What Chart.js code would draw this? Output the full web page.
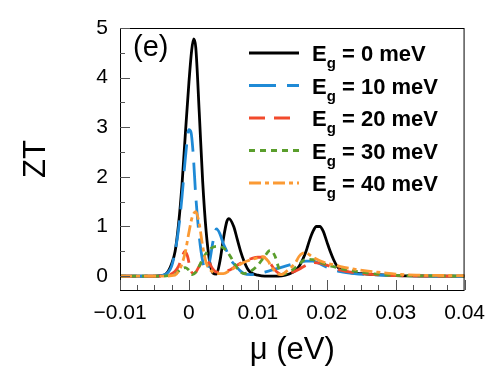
<!DOCTYPE html>
<html>
<head>
<meta charset="utf-8">
<script src="https://cdn.jsdelivr.net/npm/chart.js@4"></script>
<style>
  html, body { margin: 0; padding: 0; background: #fff; }
  #zt { display: block; }
</style>
</head>
<body>
<canvas id="zt" width="496" height="370"></canvas>
<script>
// series labels
const seriesLabels = ['0 meV', '10 meV', '20 meV', '30 meV', '40 meV'];
const seriesColors = ['#000000', '#1f8ad6', '#f24a2c', '#5a9e2c', '#fb9a34'];
const seriesDash = [[], [27, 11], [16, 9], [6, 5], [12, 4, 4, 4]];

// Eg = 0 meV
const mu0 = [-0.01, -0.005, -0.004, -0.0035, -0.003, -0.0025, -0.002, -0.0015, -0.001, -0.0005, 0, 0.0004, 0.0007, 0.001, 0.0015, 0.002, 0.0025, 0.003, 0.0035, 0.004, 0.0045, 0.005, 0.0055, 0.0058, 0.0065, 0.007, 0.0075, 0.008, 0.0085, 0.009, 0.01, 0.011, 0.012, 0.013, 0.014, 0.015, 0.0155, 0.016, 0.0165, 0.017, 0.0175, 0.018, 0.0185, 0.019, 0.0195, 0.02, 0.0205, 0.021, 0.0215, 0.022, 0.023, 0.025, 0.027, 0.03, 0.04];
const zt0 = [0, 0, 0.01, 0.03, 0.1, 0.25, 0.5, 1.05, 1.85, 2.9, 3.9, 4.55, 4.78, 4.6, 3.3, 1.9, 0.9, 0.3, 0.06, 0.04, 0.3, 0.75, 1.1, 1.16, 1.0, 0.75, 0.5, 0.3, 0.15, 0.07, 0.02, 0, 0, 0, 0.02, 0.07, 0.12, 0.2, 0.33, 0.5, 0.72, 0.9, 1.0, 1.0, 0.9, 0.7, 0.5, 0.33, 0.2, 0.13, 0.08, 0.05, 0.03, 0.01, 0];

// Eg = 10 meV
const mu10 = [-0.01, -0.005, -0.004, -0.0035, -0.003, -0.0025, -0.002, -0.0015, -0.001, -0.0005, 0, 0.0003, 0.0006, 0.001, 0.0015, 0.002, 0.0025, 0.003, 0.0035, 0.004, 0.0045, 0.005, 0.0055, 0.006, 0.0065, 0.007, 0.0075, 0.008, 0.009, 0.01, 0.011, 0.012, 0.013, 0.014, 0.015, 0.016, 0.017, 0.018, 0.019, 0.02, 0.021, 0.022, 0.024, 0.026, 0.03, 0.04];
const zt10 = [0, 0, 0.01, 0.03, 0.08, 0.2, 0.5, 0.95, 1.6, 2.4, 2.95, 2.9, 2.5, 1.6, 0.8, 0.3, 0.1, 0.3, 0.7, 0.95, 0.85, 0.65, 0.5, 0.34, 0.25, 0.17, 0.1, 0.05, 0.03, 0.05, 0.08, 0.12, 0.16, 0.2, 0.24, 0.28, 0.3, 0.3, 0.25, 0.18, 0.13, 0.09, 0.05, 0.03, 0.01, 0];

// Eg = 20 meV
const mu20 = [-0.01, -0.004, -0.003, -0.0025, -0.002, -0.0015, -0.001, -0.0006, -0.0002, 0.0002, 0.0006, 0.001, 0.0015, 0.002, 0.0025, 0.003, 0.0035, 0.004, 0.005, 0.006, 0.007, 0.008, 0.009, 0.01, 0.011, 0.0115, 0.012, 0.0125, 0.013, 0.0135, 0.014, 0.015, 0.016, 0.017, 0.018, 0.019, 0.02, 0.021, 0.022, 0.024, 0.026, 0.03, 0.04];
const zt20 = [0, 0, 0.02, 0.05, 0.1, 0.2, 0.38, 0.5, 0.4, 0.15, 0.05, 0.08, 0.2, 0.3, 0.32, 0.25, 0.14, 0.08, 0.08, 0.13, 0.22, 0.3, 0.35, 0.38, 0.38, 0.32, 0.22, 0.12, 0.06, 0.03, 0.04, 0.08, 0.14, 0.22, 0.27, 0.26, 0.22, 0.17, 0.12, 0.07, 0.04, 0.01, 0];

// Eg = 30 meV
const mu30 = [-0.01, -0.004, -0.003, -0.002, -0.0015, -0.001, -0.0005, 0, 0.0005, 0.001, 0.0015, 0.002, 0.0025, 0.003, 0.004, 0.005, 0.0055, 0.006, 0.0065, 0.007, 0.0075, 0.008, 0.009, 0.01, 0.011, 0.0118, 0.0125, 0.013, 0.0135, 0.014, 0.015, 0.016, 0.017, 0.018, 0.019, 0.02, 0.021, 0.022, 0.024, 0.026, 0.028, 0.03, 0.04];
const zt30 = [0, 0, 0.01, 0.04, 0.1, 0.15, 0.17, 0.12, 0.03, 0.08, 0.2, 0.35, 0.46, 0.54, 0.6, 0.57, 0.5, 0.4, 0.28, 0.16, 0.08, 0.05, 0.1, 0.22, 0.4, 0.52, 0.4, 0.18, 0.04, 0.05, 0.12, 0.24, 0.34, 0.33, 0.28, 0.23, 0.19, 0.15, 0.1, 0.06, 0.03, 0.015, 0];

// Eg = 40 meV
const mu40 = [-0.01, -0.004, -0.002, -0.0015, -0.001, -0.0005, 0, 0.0005, 0.001, 0.0015, 0.002, 0.0025, 0.003, 0.0035, 0.004, 0.005, 0.006, 0.007, 0.008, 0.009, 0.01, 0.0107, 0.0115, 0.012, 0.0125, 0.013, 0.0135, 0.014, 0.015, 0.0155, 0.016, 0.0165, 0.017, 0.0175, 0.018, 0.019, 0.02, 0.021, 0.022, 0.024, 0.026, 0.028, 0.03, 0.033, 0.04];
const zt40 = [0, 0, 0.02, 0.1, 0.25, 0.5, 0.88, 1.2, 1.3, 1.05, 0.6, 0.27, 0.14, 0.08, 0.05, 0.05, 0.12, 0.2, 0.28, 0.33, 0.37, 0.39, 0.3, 0.18, 0.1, 0.04, 0.03, 0.08, 0.2, 0.28, 0.4, 0.46, 0.47, 0.43, 0.38, 0.31, 0.26, 0.23, 0.19, 0.14, 0.1, 0.07, 0.04, 0.02, 0.01];

const xTicks = [-0.01, 0, 0.01, 0.02, 0.03, 0.04];
const yTicks = [0, 1, 2, 3, 4, 5];

const muList = [mu0, mu10, mu20, mu30, mu40];
const ztList = [zt0, zt10, zt20, zt30, zt40];

const FONT = "'Liberation Sans', Arial, Helvetica, sans-serif";

const datasets = seriesLabels.map((lab, i) => ({
    label: lab,
    data: muList[i].map((m, k) => ({ x: m, y: ztList[i][k] })),
    borderColor: seriesColors[i],
    borderDash: seriesDash[i],
    borderWidth: 2.8,
    pointRadius: 0,
    fill: false,
    cubicInterpolationMode: 'monotone',
    order: 5 - i
}));

// frame, inward ticks, (e) tag and legend with subscript
const framePlugin = {
    id: 'frame',
    afterDraw(chart) {
        const ctx = chart.ctx;
        const a = chart.chartArea;
        const xs = chart.scales.x, ys = chart.scales.y;
        ctx.save();
        ctx.strokeStyle = '#000';
        ctx.lineWidth = 1;
        ctx.strokeRect(a.left + 0.5, a.top + 0.5, a.right - a.left - 1, a.bottom - a.top);

        ctx.strokeStyle = '#555';
        for (let i = 0; i <= 20; i++) {
            const v = -0.01 + i * 0.0025;
            const px = Math.round(xs.getPixelForValue(v)) + 0.5;
            const len = i % 4 === 0 ? 10 : 5;
            ctx.beginPath();
            ctx.moveTo(px, a.bottom);
            ctx.lineTo(px, a.bottom - len);
            ctx.stroke();
        }
        for (let i = 0; i <= 10; i++) {
            const v = i * 0.5;
            const py = Math.round(ys.getPixelForValue(v)) + 0.5;
            const len = i % 2 === 0 ? 10 : 5;
            ctx.beginPath();
            ctx.moveTo(a.left, py);
            ctx.lineTo(a.left + len, py);
            ctx.stroke();
        }

        ctx.fillStyle = '#000';
        ctx.textBaseline = 'alphabetic';
        ctx.textAlign = 'left';
        ctx.font = '29px ' + FONT;
        ctx.fillText('(e)', 133, 56);

        seriesLabels.forEach((lab, i) => {
            const rowY = 53 + i * 32.5;
            ctx.save();
            ctx.strokeStyle = seriesColors[i];
            ctx.lineWidth = 2.8;
            ctx.setLineDash(seriesDash[i]);
            ctx.beginPath();
            ctx.moveTo(249, rowY);
            ctx.lineTo(299, rowY);
            ctx.stroke();
            ctx.restore();
            let x = 312;
            ctx.font = 'bold 22px ' + FONT;
            ctx.fillText('E', x, rowY + 8);
            x += ctx.measureText('E').width;
            ctx.font = 'bold 15px ' + FONT;
            ctx.fillText('g', x, rowY + 15);
            x += ctx.measureText('g').width;
            ctx.font = 'bold 22px ' + FONT;
            ctx.fillText(' = ' + lab, x, rowY + 8);
        });
        ctx.restore();
    }
};

function fmtX(v) {
    const r = Math.round(v * 100) / 100;
    return r < 0 ? '\u2212' + String(-r) : String(r);
}

new Chart(document.getElementById('zt'), {
    type: 'line',
    data: { datasets: datasets },
    options: {
        responsive: false,
        animation: false,
        layout: { padding: { top: 28, right: 29, left: 0, bottom: 0 } },
        plugins: { legend: { display: false }, tooltip: { enabled: false } },
        scales: {
            x: {
                type: 'linear',
                min: -0.01,
                max: 0.04,
                afterFit(s) { s.height = 80; },
                afterBuildTicks(s) { s.ticks = xTicks.map(v => ({ value: v })); },
                grid: { display: false, drawTicks: false },
                border: { display: false },
                ticks: {
                    color: '#000',
                    font: { family: FONT, size: 21 },
                    padding: 11,
                    maxRotation: 0,
                    autoSkip: false,
                    callback: v => fmtX(v)
                },
                title: {
                    display: true,
                    text: 'μ (eV)',
                    color: '#000',
                    font: { family: FONT, size: 31 },
                    padding: { top: 0, bottom: 1 }
                }
            },
            y: {
                type: 'linear',
                min: -0.28,
                max: 5,
                afterFit(s) { s.width = 120; },
                afterBuildTicks(s) { s.ticks = yTicks.map(v => ({ value: v })); },
                grid: { display: false, drawTicks: false },
                border: { display: false },
                ticks: {
                    color: '#000',
                    font: { family: FONT, size: 21 },
                    padding: 12,
                    callback: v => String(v)
                },
                title: {
                    display: true,
                    text: 'ZT',
                    color: '#000',
                    font: { family: FONT, size: 31 },
                    padding: { top: 18, bottom: 0 }
                }
            }
        }
    },
    plugins: [framePlugin]
});
</script>
</body>
</html>
